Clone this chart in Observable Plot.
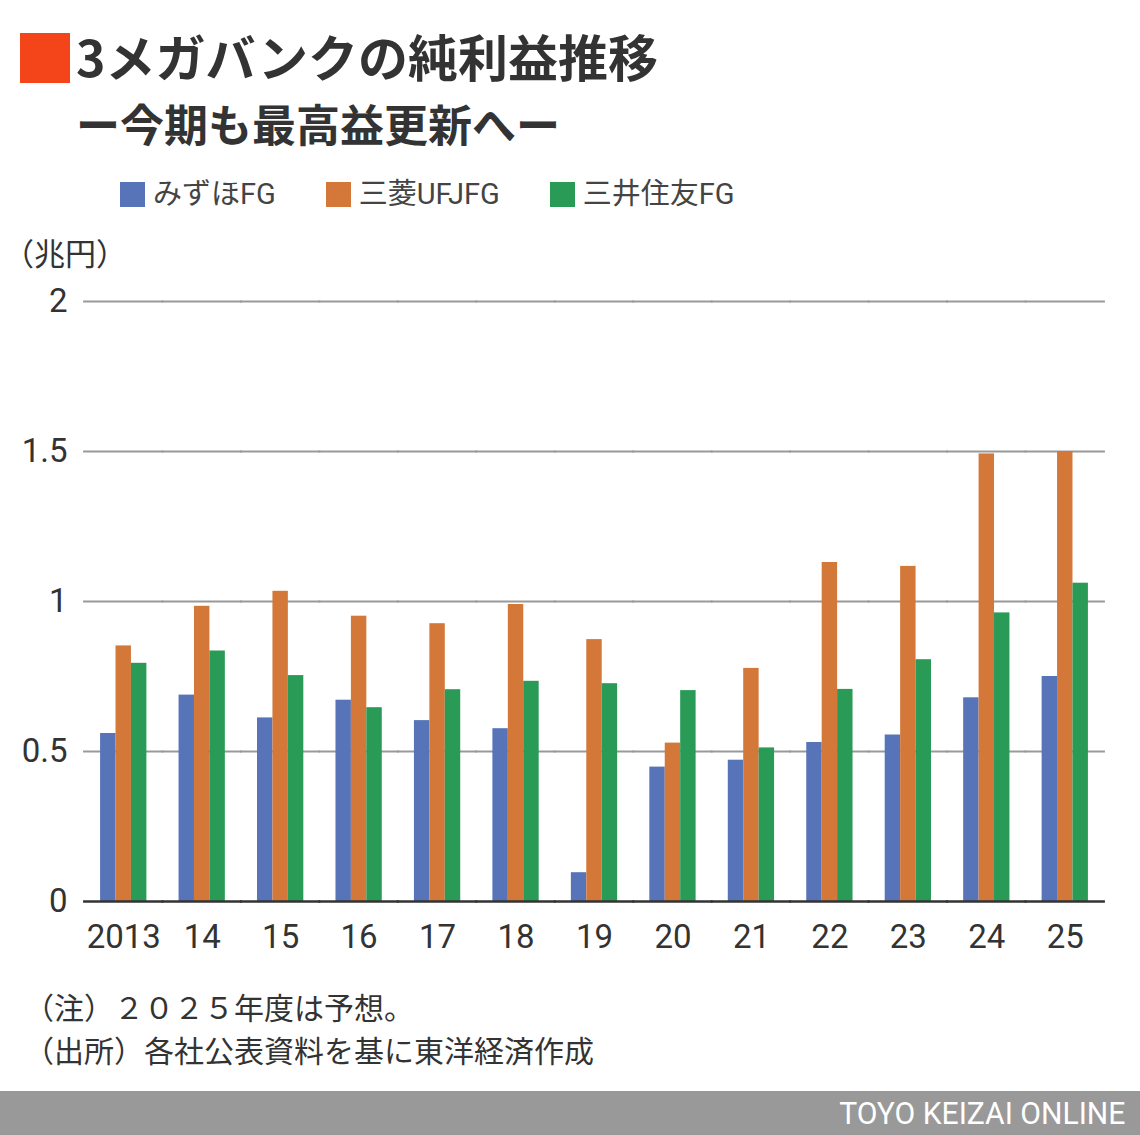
<!DOCTYPE html>
<html>
<head>
<meta charset="utf-8">
<script src="https://cdn.jsdelivr.net/npm/d3@7"></script>
<script src="https://cdn.jsdelivr.net/npm/@observablehq/plot@0.6"></script>
<style>
  html, body { margin: 0; padding: 0; background: #fff; }
  body { width: 1140px; height: 1135px; position: relative; overflow: hidden;
         font-family: Roboto, "Noto Sans CJK JP", sans-serif; color: #333; }
  .abs { position: absolute; white-space: nowrap; }
  #mark { left: 20px; top: 33px; width: 50px; height: 50px; background: #f4441a; }
  #title { left: 76px; top: 30px; font-family: "Noto Sans CJK JP", sans-serif; font-weight: 700; font-size: 50px; line-height: 1; color: #333; }
  #subtitle { left: 76px; top: 101px; font-family: "Noto Sans CJK JP", sans-serif; font-weight: 700; font-size: 44px; line-height: 1; color: #333; }
  #legend { left: 120px; top: 178px; display: flex; gap: 50px; font-size: 29px; line-height: 32px; color: #444; }
  #legend .item { display: flex; align-items: center; }
  #legend .sw { width: 25px; height: 25px; margin-right: 8px; }
  #unit { left: 3px; top: 239px; font-size: 31px; line-height: 1; color: #333; }
  #chart { left: 0; top: 280px; }
  #notes { left: 24px; top: 987px; font-size: 30px; line-height: 43px; color: #333; }
  #footer { left: 0; top: 1091px; width: 1140px; height: 44px; background: #999; }
  #footer span { position: absolute; right: 15px; top: 5px; color: #fff; font-family: Roboto, sans-serif; font-size: 32px; line-height: 34px; transform: scaleX(0.94); transform-origin: right center; }
</style>
</head>
<body>
<div id="mark" class="abs"></div>
<div id="title" class="abs"></div>
<div id="subtitle" class="abs"></div>
<div id="legend" class="abs"></div>
<div id="unit" class="abs"></div>
<div id="chart" class="abs"></div>
<div id="notes" class="abs"></div>
<div id="footer" class="abs"><span></span></div>
<script>
// ---- data ----
const titleText = "3メガバンクの純利益推移";
const subtitleText = "ー今期も最高益更新へー";
const unitText = "（兆円）";
const noteLines = ["（注）２０２５年度は予想。", "（出所）各社公表資料を基に東洋経済作成"];
const footerText = "TOYO KEIZAI ONLINE";

const years = ["2013", "14", "15", "16", "17", "18", "19", "20", "21", "22", "23", "24", "25"];
const series = ["みずほFG", "三菱UFJFG", "三井住友FG"];
const colors = ["#5874b8", "#d4783a", "#2a9a57"];
const mizuho = [0.560, 0.688, 0.612, 0.671, 0.603, 0.576, 0.096, 0.448, 0.471, 0.530, 0.555, 0.679, 0.750];
const mufg   = [0.852, 0.984, 1.034, 0.951, 0.926, 0.990, 0.873, 0.528, 0.777, 1.130, 1.117, 1.492, 1.500];
const smfg   = [0.794, 0.835, 0.753, 0.646, 0.706, 0.734, 0.726, 0.703, 0.512, 0.707, 0.806, 0.962, 1.061];
const yTicks = [0, 0.5, 1, 1.5, 2];
const yTickLabels = ["0", "0.5", "1", "1.5", "2"];

// ---- header / footer text ----
document.getElementById("title").textContent = titleText;
document.getElementById("subtitle").textContent = subtitleText;
document.getElementById("unit").textContent = unitText;
document.getElementById("notes").innerHTML = noteLines.map(s => `<div>${s}</div>`).join("");
document.querySelector("#footer span").textContent = footerText;

const legend = document.getElementById("legend");
series.forEach((s, i) => {
  const item = document.createElement("div");
  item.className = "item";
  const sw = document.createElement("span");
  sw.className = "sw";
  sw.style.background = colors[i];
  const lab = document.createElement("span");
  lab.textContent = s;
  item.append(sw, lab);
  legend.append(item);
});

// ---- chart ----
const valuesBySeries = [mizuho, mufg, smfg];
const data = years.flatMap((y, i) => series.map((s, j) => ({year: y, series: s, value: valuesBySeries[j][i]})));

// horizontal rules are drawn per facet and stretched across the gaps between facets
const ext = -17;

const chart = Plot.plot({
  width: 1140,
  height: 690,
  marginTop: 21,
  marginBottom: 69,
  marginLeft: 84,
  marginRight: 36,
  style: {fontFamily: "Roboto, 'Noto Sans CJK JP', sans-serif", fontSize: "33px", color: "#333", background: "transparent", overflow: "visible"},
  fx: {domain: years, paddingInner: 0.41, paddingOuter: 0.205, round: false, label: null, axis: null},
  x: {domain: series, padding: 0, round: false, axis: null},
  y: {domain: [0, 2], label: null, axis: null},
  color: {domain: series, range: colors},
  marks: [
    Plot.ruleY(yTicks.filter(d => d > 0), {stroke: "#999", strokeWidth: 2, insetLeft: ext, insetRight: ext}),
    Plot.barY(data, {fx: "year", x: "series", y: "value", fill: "series"}),
    Plot.ruleY([0], {stroke: "#333", strokeWidth: 2.5, insetLeft: ext, insetRight: ext}),
    Plot.axisY({ticks: yTicks, tickFormat: d => yTickLabels[yTicks.indexOf(d)], tickSize: 0, tickPadding: 33, label: null, fontSize: 33, fill: "#333"}),
    Plot.axisFx({domain: years, anchor: "bottom", tickSize: 0, tickPadding: 23, label: null, fontSize: 33, fill: "#333"})
  ]
});
document.getElementById("chart").append(chart);
</script>
</body>
</html>
